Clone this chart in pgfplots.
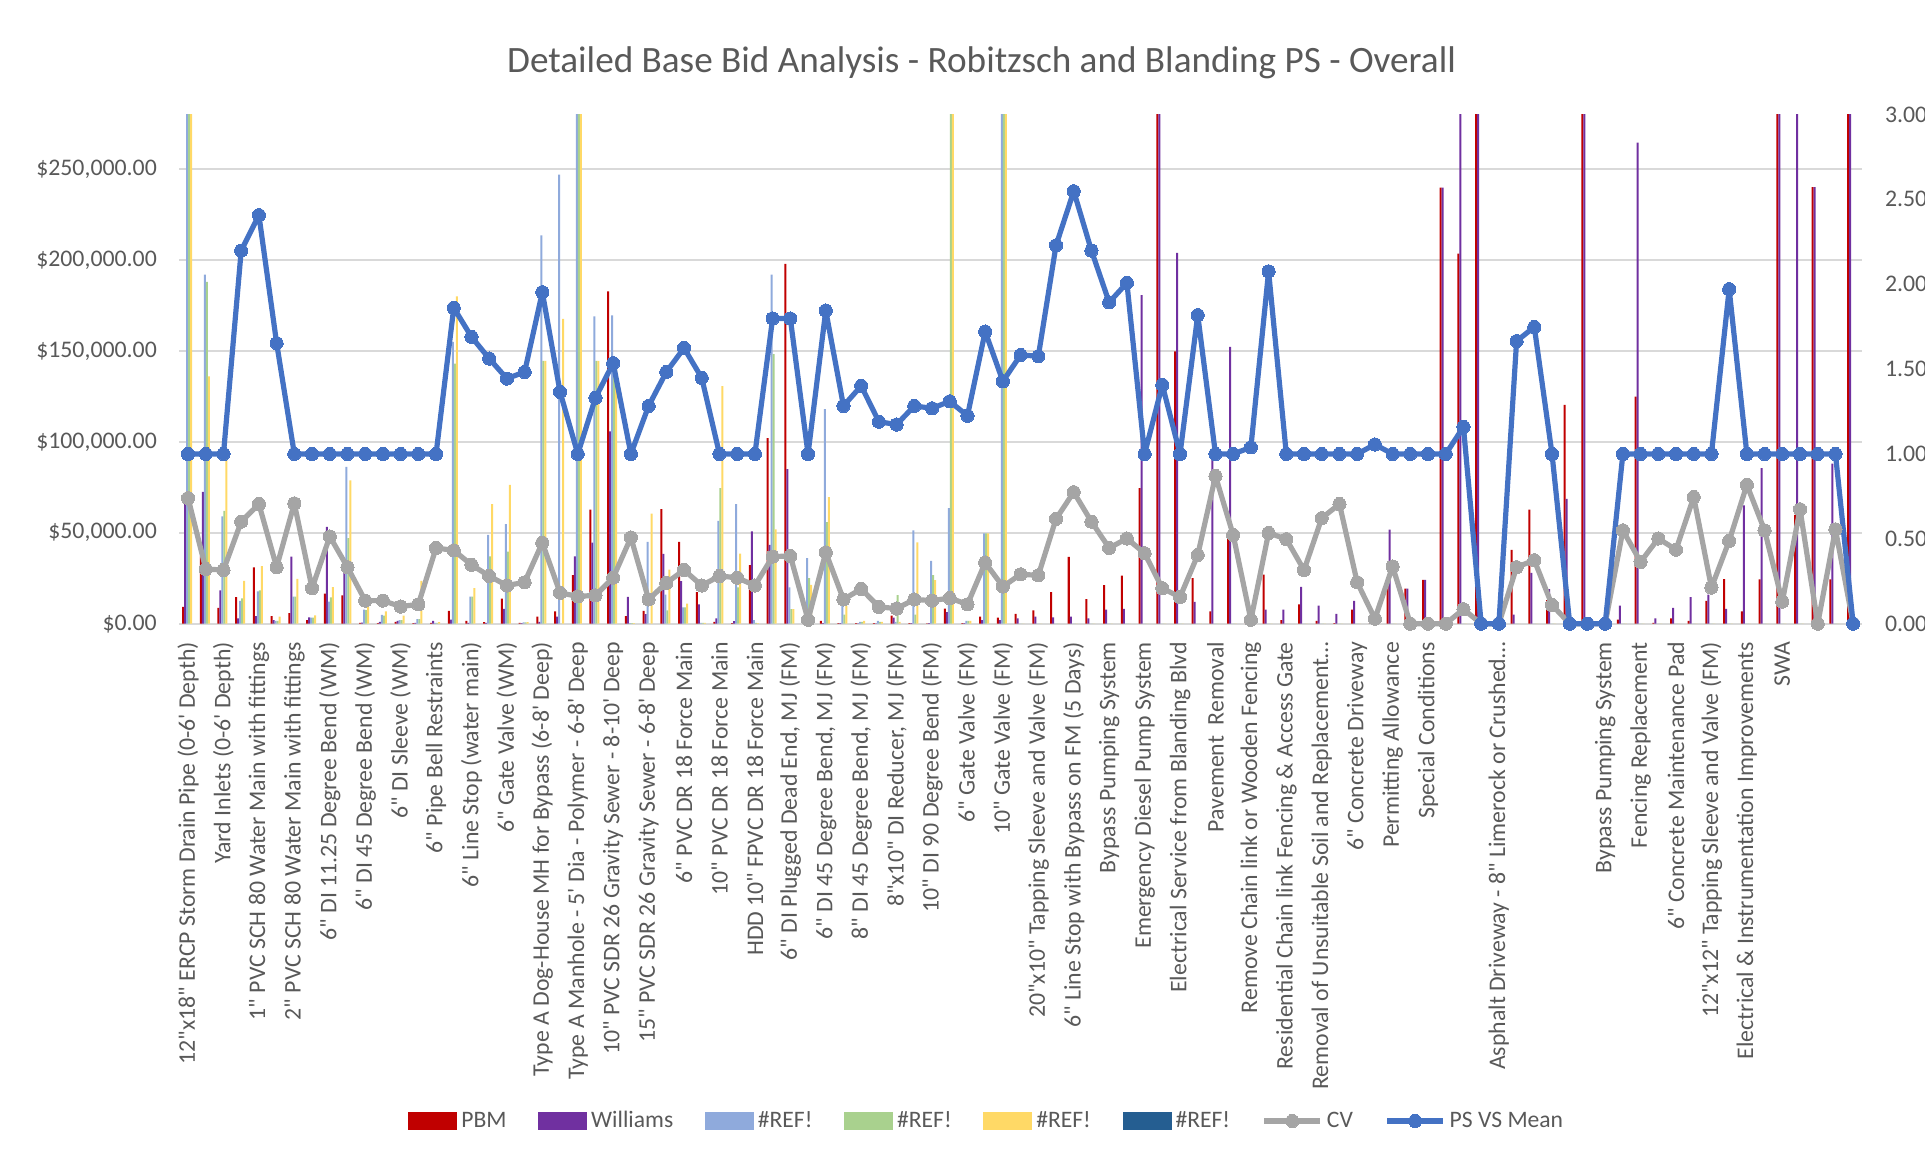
\documentclass[border=0pt]{standalone}
\usepackage{pgfplots}
\pgfplotsset{compat=1.18}
\usepackage{pgfplotstable}
\usepackage{fontspec}
\setmainfont{Carlito}
\newfontfamily\carlito{Carlito}
\definecolor{pbm}{HTML}{C00000}
\definecolor{wil}{HTML}{7030A0}
\definecolor{lb}{HTML}{8FAADC}
\definecolor{gr}{HTML}{A9D18E}
\definecolor{ye}{HTML}{FFD966}
\definecolor{db}{HTML}{255E91}
\definecolor{cvc}{HTML}{A5A5A5}
\definecolor{psc}{HTML}{4472C4}
\definecolor{txt}{HTML}{595959}
\definecolor{gridc}{HTML}{D9D9D9}

\pgfplotsset{
  barleg/.style={legend image code/.code={\fill[##1] (0pt,-4.3pt) rectangle (24.5pt,4.3pt);}},
  lineleg/.style={legend image code/.code={\draw[##1, mark repeat=2, mark phase=2] plot coordinates {(0pt,0pt) (14pt,0pt) (28pt,0pt)};}},
}

\pgfplotstableread{
x pbm wil lb gr ye cv ps
0 9300 66000 300000 300000 300000 0.740 1.000
1 37000 72500 192000 188000 136000 0.322 1.000
2 8700 18300 59000 62000 93000 0.316 1.000
3 14600 2900 12500 13900 23500 0.601 2.198
4 31000 4200 17800 18300 31600 0.705 2.407
5 4200 1900 1500 1500 3900 0.333 1.653
6 5800 36900 14900 14900 24700 0.709 1.000
7 1900 3500 3300 3300 4600 0.209 1.000
8 16600 53200 12200 14500 20100 0.514 1.000
9 15600 30000 86200 47000 78800 0.333 1.000
10 400 600 7700 7500 9700 0.136 1.000
11 300 1000 4800 4500 6800 0.136 1.000
12 1000 1500 1900 1900 4400 0.101 1.000
13 300 500 2500 2500 23600 0.114 1.000
14 400 1500 500 500 800 0.446 1.000
15 7100 2300 155000 143000 180000 0.432 1.861
16 1500 500 14900 14900 19500 0.347 1.690
17 800 500 48800 37000 65800 0.281 1.562
18 13800 8100 54700 39700 76400 0.225 1.444
19 500 300 700 700 900 0.244 1.483
20 3900 1000 213500 144500 144500 0.477 1.953
21 6800 3900 247000 0 167600 0.182 1.366
22 26700 37000 300000 300000 300000 0.161 1.000
23 62700 44600 169000 144500 144500 0.167 1.331
24 182800 105800 169500 141000 141000 0.271 1.535
25 4200 14800 300 300 300 0.508 1.000
26 7100 5200 45000 0 60500 0.143 1.283
27 63000 38400 16000 7300 29800 0.240 1.483
28 45000 23400 9000 9000 11000 0.316 1.624
29 17400 10600 500 500 500 0.225 1.448
30 1000 2900 56600 74500 130700 0.281 1.000
31 300 1400 65800 20000 38600 0.271 1.000
32 32200 50700 1900 500 300 0.225 1.000
33 102000 43300 192000 148300 51800 0.395 1.798
34 197800 85000 20000 8000 8000 0.399 1.798
35 200 200 36100 25100 21400 0.023 1.000
36 1500 300 118000 55800 69600 0.420 1.845
37 300 300 12000 5000 10000 0.143 1.283
38 300 200 1000 1000 1500 0.205 1.401
39 300 200 1500 1000 1000 0.099 1.190
40 4400 3300 1000 15700 1000 0.089 1.173
41 300 300 51300 5000 44700 0.143 1.283
42 200 300 34500 26700 24000 0.136 1.269
43 8300 6400 63500 300000 300000 0.151 1.310
44 300 300 1500 1500 1500 0.114 1.225
45 3900 1900 49600 49600 49600 0.360 1.721
46 3300 1900 300000 300000 300000 0.219 1.428
47 5400 2900 0 0 0 0.291 1.583
48 7300 3900 0 0 0 0.285 1.576
49 17400 3500 0 0 0 0.618 2.229
50 36700 3900 0 0 0 0.775 2.548
51 13500 2900 0 0 0 0.601 2.198
52 21200 7700 0 0 0 0.446 1.893
53 26400 8100 0 0 0 0.502 2.008
54 74500 180700 0 0 0 0.415 1.000
55 300000 300000 0 0 0 0.209 1.407
56 149800 203900 0 0 0 0.157 1.000
57 25000 12000 0 0 0 0.405 1.818
58 6800 92000 0 0 0 0.870 1.000
59 48000 152200 0 0 0 0.523 1.000
60 3900 1000 0 0 0 0.023 1.039
61 27000 7700 0 0 0 0.535 2.076
62 1900 7700 0 0 0 0.498 1.000
63 10600 20300 0 0 0 0.316 1.000
64 1500 10000 0 0 0 0.622 1.000
65 300 5400 0 0 0 0.705 1.000
66 7700 12500 0 0 0 0.244 1.000
67 300 1500 0 0 0 0.029 1.056
68 25100 51700 0 0 0 0.337 1.000
69 19300 19300 0 0 0 0.000 1.000
70 24100 24100 0 0 0 0.000 1.000
71 239800 239800 0 0 0 0.000 1.000
72 203500 300000 0 0 0 0.085 1.159
73 300000 300000 0 0 0 0.000 0.000
74 0 0 0 0 0 0.000 0.000
75 40600 5000 0 0 0 0.333 1.665
76 62700 28000 0 0 0 0.374 1.748
77 13000 19000 0 0 0 0.110 1.000
78 120300 68700 0 0 0 0.000 0.000
79 300000 300000 0 0 0 0.000 0.000
80 0 0 0 0 0 0.000 0.000
81 2300 10000 0 0 0 0.550 1.000
82 124800 264500 0 0 0 0.364 1.000
83 400 2900 0 0 0 0.502 1.000
84 2900 8700 0 0 0 0.436 1.000
85 1500 14600 0 0 0 0.746 1.000
86 12500 16000 0 0 0 0.213 1.000
87 24500 8100 0 0 0 0.488 1.971
88 6800 65000 0 0 0 0.818 1.000
89 24400 85500 0 0 0 0.550 1.000
90 300000 300000 0 0 0 0.130 1.000
91 59800 300000 0 0 0 0.674 1.000
92 240000 240000 0 0 0 0.000 1.000
93 24400 88000 0 0 0 0.556 1.000
94 300000 300000 0 0 0 0.000 0.000
}\data

\begin{document}
\begin{tikzpicture}[x=1pt,y=1pt]

\begin{axis}[
  scale only axis, width=841.4pt, height=254.6pt,
  xmin=-0.5, xmax=94.5, ymin=0, ymax=280000,
  axis line style={draw=none},
  major tick length=0pt,
  ytick={0,50000,100000,150000,200000,250000},
  ymajorgrids, grid style={draw=gridc, line width=0.9pt},
  scaled y ticks=false,
  /pgf/number format/assume math mode=true,
  yticklabel={\$\pgfmathprintnumber[fixed,fixed zerofill,precision=2,1000 sep={,}]{\tick}},
  tick label style={font=\carlito\fontsize{11.9}{13}\selectfont, text=txt},
  yticklabel style={anchor=east, inner sep=0pt, xshift=-11pt},
  xtick={0,2,...,94},
  xticklabels={
{12"x18" ERCP Storm Drain Pipe (0-6' Depth)},
{Yard Inlets (0-6' Depth)},
{1" PVC SCH 80 Water Main with fittings},
{2" PVC SCH 80 Water Main with fittings},
{6" DI 11.25 Degree Bend (WM)},
{6" DI 45 Degree Bend (WM)},
{6" DI Sleeve (WM)},
{6" Pipe Bell Restraints},
{6" Line Stop (water main)},
{6" Gate Valve (WM)},
{Type A Dog-House MH for Bypass (6-8' Deep)},
{Type A Manhole - 5' Dia - Polymer - 6-8' Deep},
{10" PVC SDR 26 Gravity Sewer - 8-10' Deep},
{15" PVC SDR 26 Gravity Sewer - 6-8' Deep},
{6" PVC DR 18 Force Main},
{10" PVC DR 18 Force Main},
{HDD 10" FPVC DR 18 Force Main},
{6" DI Plugged Dead End, MJ (FM)},
{6" DI 45 Degree Bend, MJ (FM)},
{8" DI 45 Degree Bend, MJ (FM)},
{8"x10" DI Reducer, MJ (FM)},
{10" DI 90 Degree Bend (FM)},
{6" Gate Valve (FM)},
{10" Gate Valve (FM)},
{20"x10" Tapping Sleeve and Valve (FM)},
{6" Line Stop with Bypass on FM (5 Days)},
{Bypass Pumping System},
{Emergency Diesel Pump System},
{Electrical Service from Blanding Blvd},
{Pavement\ \ Removal},
{Remove Chain link or Wooden Fencing},
{Residential Chain link Fencing \& Access Gate},
{Removal of Unsuitable Soil and Replacement…},
{6" Concrete Driveway},
{Permitting Allowance},
{Special Conditions},
{},
{Asphalt Driveway - 8" Limerock or Crushed…},
{},
{},
{Bypass Pumping System},
{Fencing Replacement},
{6" Concrete Maintenance Pad},
{12"x12" Tapping Sleeve and Valve (FM)},
{Electrical \& Instrumentation Improvements},
{SWA},
{},
{}
  },
  xticklabel style={rotate=90, anchor=east, inner sep=0pt},
  xticklabel shift=9pt,
  ybar, bar width=0.113,
]
\addplot[fill=pbm, draw=none, bar shift=-0.2825] table[x=x, y=pbm] {\data};
\addplot[fill=wil, draw=none, bar shift=-0.1695] table[x=x, y=wil] {\data};
\addplot[fill=lb,  draw=none, bar shift=-0.0565] table[x=x, y=lb] {\data};
\addplot[fill=gr,  draw=none, bar shift=0.0565] table[x=x, y=gr] {\data};
\addplot[fill=ye,  draw=none, bar shift=0.1695] table[x=x, y=ye] {\data};
\end{axis}

\begin{axis}[
  scale only axis, width=841.4pt, height=254.6pt,
  xmin=-0.5, xmax=94.5, ymin=0, ymax=3,
  axis x line=none,
  axis y line*=right,
  y axis line style={draw=none},
  major tick length=0pt,
  ytick={0,0.5,1,1.5,2,2.5,3},
  /pgf/number format/assume math mode=true,
  yticklabel={\pgfmathprintnumber[fixed,fixed zerofill,precision=2]{\tick}},
  tick label style={font=\carlito\fontsize{11.9}{13}\selectfont, text=txt},
  yticklabel style={anchor=west, inner sep=0pt, xshift=11.3pt},
  clip=false,
  legend columns=8,
  legend style={at={(0.4805,-0.9766)}, anchor=center, draw=none, fill=none,
    font=\carlito\fontsize{11.8}{13}\selectfont, text=txt,
    /tikz/every even column/.append style={column sep=13.8pt}},
]
\addlegendimage{barleg, fill=pbm, draw=none}
\addlegendimage{barleg, fill=wil, draw=none}
\addlegendimage{barleg, fill=lb, draw=none}
\addlegendimage{barleg, fill=gr, draw=none}
\addlegendimage{barleg, fill=ye, draw=none}
\addlegendimage{barleg, fill=db, draw=none}
\addplot[color=cvc, line width=2.6pt, line join=round, mark=*, mark size=3.3pt,
  mark options={fill=cvc, draw=cvc, line width=0pt}, lineleg]
  table[x=x, y=cv] {\data};
\addplot[color=psc, line width=2.6pt, line join=round, mark=*, mark size=3.3pt,
  mark options={fill=psc, draw=psc, line width=0pt}, lineleg]
  table[x=x, y=ps] {\data};
\legend{PBM, Williams, \#REF!, \#REF!, \#REF!, \#REF!, CV, PS VS Mean}
\end{axis}

\node[text=txt, font=\carlito\fontsize{18.6}{22}\selectfont] at (401.2,280.6) {Detailed Base Bid Analysis - Robitzsch and Blanding PS - Overall};

\pgfresetboundingbox
\path[use as bounding box] (-89.6,-267.65) rectangle (872.9,311.85);
\end{tikzpicture}
\end{document}
